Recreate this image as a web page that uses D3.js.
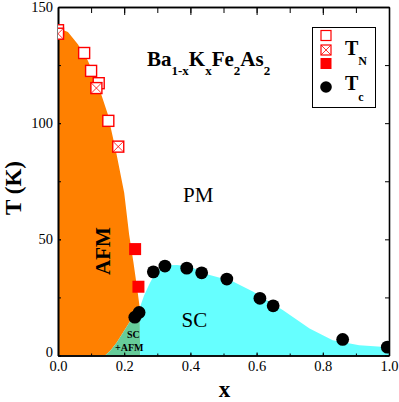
<!DOCTYPE html>
<html><head><meta charset="utf-8">
<script src="https://cdn.jsdelivr.net/npm/d3@7"></script>
<style>body{margin:0;background:#fff}svg{display:block}text{font-family:"Liberation Serif","Times New Roman",serif}</style>
</head><body>
<svg id="c" width="399" height="402"></svg>
<script>
// ---- data ----
const tnOpen = [[0,140],[0.079,130.2],[0.10,122.5],[0.123,117.2],[0.152,101]];
const tnCrossed = [[0,138.5],[0.116,115.1],[0.182,89.9]];
const tnFilled = [[0.233,45.8],[0.243,29.6]];
const tcData = [[0.232,16.5],[0.245,18.5],[0.288,36],[0.323,38.5],[0.389,37.6],[0.434,35.6],[0.51,32.9],[0.61,24.6],[0.65,21.4],[0.86,6.9],[0.995,3.6]];
const afmEdge = [[0,141],[0.03,139.2],[0.06,134],[0.09,127],[0.12,117],[0.15,104],[0.175,88],[0.2,70],[0.215,52],[0.228,40],[0.24,28],[0.247,20.5]];
const mixEdge = [[0.247,20.5],[0.233,18.2],[0.207,12.3],[0.177,5.5],[0.158,2],[0.142,0]];
const scEdge = [[0.248,0],[0.247,20.5],[0.26,25.8],[0.275,30.4],[0.29,34.5],[0.31,37.6],[0.33,38.8],[0.36,39],[0.4,38.2],[0.45,35],[0.5,33],[0.53,31.7],[0.59,27.4],[0.68,19.5],[0.76,11.6],[0.83,6.6],[0.91,4.4],[1.0,3.6],[1.0,0]];
const xMajor = [0,0.2,0.4,0.6,0.8,1.0];
const xMinor = [0,0.1,0.2,0.3,0.4,0.5,0.6,0.7,0.8,0.9,1.0];
const yMajor = [0,50,100,150];
const yMinor = [0,25,50,75,100,125,150];

const svg = d3.select("#c");
const x = d3.scaleLinear().domain([0,1]).range([58,389]);
const y = d3.scaleLinear().domain([0,150]).range([355.5,7]);

svg.append("defs").append("clipPath").attr("id","clip")
  .append("rect").attr("x",58).attr("y",7).attr("width",331).attr("height",348.5);

const line = d3.line().x(d=>x(d[0])).y(d=>y(d[1]));
const g = svg.append("g").attr("clip-path","url(#clip)");

// regions
const afmPoly = [[0,0]].concat(afmEdge, mixEdge.slice(1));
g.append("path").attr("d", line(afmPoly)+"Z").attr("fill","#ff8000");
const mixPoly = mixEdge.concat([[0.248,0]]);
g.append("path").attr("d", line(mixPoly)+"Z").attr("fill","#66cc99");
g.append("path").attr("d", line(scEdge)+"Z").attr("fill","#66ffff");

// axes
function styleAxis(sel){
  sel.selectAll(".domain").attr("stroke","#000").attr("stroke-width",1.6);
  sel.selectAll(".tick line").attr("stroke","#000").attr("stroke-width",1);
  sel.selectAll("text").attr("font-family","Liberation Serif").attr("font-size",14.5).attr("fill","#000");
}
const ax1 = svg.append("g").attr("transform","translate(0,355.5)")
  .call(d3.axisBottom(x).tickValues(xMinor).tickSizeInner(-2).tickSizeOuter(0).tickFormat(""));
styleAxis(ax1);
const ax2 = svg.append("g").attr("transform","translate(0,355.5)")
  .call(d3.axisBottom(x).tickValues(xMajor).tickSizeInner(-3).tickSizeOuter(0).tickPadding(5).tickFormat(d3.format(".1f")));
styleAxis(ax2);
const ax3 = svg.append("g").attr("transform","translate(58,0)")
  .call(d3.axisLeft(y).tickValues(yMinor).tickSizeInner(-3).tickSizeOuter(0).tickFormat(""));
styleAxis(ax3);
const ax4 = svg.append("g").attr("transform","translate(58,0)")
  .call(d3.axisLeft(y).tickValues(yMajor).tickSizeInner(-3).tickSizeOuter(0).tickPadding(5));
styleAxis(ax4);
ax4.selectAll(".tick text").filter(d=>d===0).attr("dy","0.1em");
const ax5 = svg.append("g").attr("transform","translate(0,7)")
  .call(d3.axisTop(x).tickValues(xMinor).tickSizeInner(-6).tickSizeOuter(0).tickFormat(""));
styleAxis(ax5);
const ax6 = svg.append("g").attr("transform","translate(0,7)")
  .call(d3.axisTop(x).tickValues(xMajor).tickSizeInner(-8).tickSizeOuter(0).tickFormat(""));
styleAxis(ax6);
const ax7 = svg.append("g").attr("transform","translate(389,0)")
  .call(d3.axisRight(y).tickValues(yMinor).tickSizeInner(-4).tickSizeOuter(0).tickFormat(""));
styleAxis(ax7);

// symbols
const S = 11;
const sg = svg.append("g").attr("clip-path","url(#clip)");
function sq(sel, data, fill){
  sel.selectAll(null).data(data).enter().append("rect")
    .attr("x",d=>x(d[0])-S/2).attr("y",d=>y(d[1])-S/2).attr("width",S).attr("height",S)
    .attr("fill",fill).attr("stroke","#ff0000").attr("stroke-width",1.4);
}
sq(sg, tnOpen, "#fff");
sq(sg, tnCrossed, "#fff");
sg.selectAll(null).data(tnCrossed).enter().append("path")
  .attr("d",d=>{const cx=x(d[0]),cy=y(d[1]),h=S/2;return `M${cx-h},${cy-h}L${cx+h},${cy+h}M${cx+h},${cy-h}L${cx-h},${cy+h}`;})
  .attr("stroke","#ff0000").attr("stroke-width",0.8);
sg.selectAll(null).data(tnFilled).enter().append("rect")
  .attr("x",d=>x(d[0])-6).attr("y",d=>y(d[1])-6).attr("width",12).attr("height",12).attr("fill","#ff0000");
sg.selectAll(null).data(tcData).enter().append("circle")
  .attr("cx",d=>x(d[0])).attr("cy",d=>y(d[1])).attr("r",6.4).attr("fill","#000");

// labels
const title = svg.append("text").attr("x",147).attr("y",66).attr("font-weight","bold");
title.append("tspan").attr("font-size",21).text("Ba");
title.append("tspan").attr("font-size",13).attr("dy",9).text("1-x");
title.append("tspan").attr("font-size",21).attr("dy",-9).text("K");
title.append("tspan").attr("font-size",13).attr("dy",9).text("x");
title.append("tspan").attr("font-size",21).attr("dy",-9).text("Fe");
title.append("tspan").attr("font-size",13).attr("dy",9).text("2");
title.append("tspan").attr("font-size",21).attr("dy",-9).text("As");
title.append("tspan").attr("font-size",13).attr("dy",9).text("2");

svg.append("text").attr("x",183).attr("y",201.5).attr("font-size",21).text("PM");
svg.append("text").attr("x",181.5).attr("y",326.5).attr("font-size",21).text("SC");
svg.append("text").attr("transform","translate(110,251) rotate(-90)").attr("text-anchor","middle")
  .attr("font-size",21).attr("font-weight","bold").text("AFM");
svg.append("text").attr("x",127).attr("y",337.5).attr("font-size",10).attr("font-weight","bold").text("SC");
svg.append("text").attr("x",115).attr("y",351).attr("font-size",10).attr("font-weight","bold").text("+AFM");
svg.append("text").attr("transform","translate(21,188) rotate(-90)").attr("text-anchor","middle")
  .attr("font-size",23).attr("font-weight","bold").text("T (K)");
svg.append("text").attr("x",224.5).attr("y",397).attr("text-anchor","middle")
  .attr("font-size",23).attr("font-weight","bold").text("x");

// legend
const lg = svg.append("g");
lg.append("rect").attr("x",312.5).attr("y",27.5).attr("width",63).attr("height",80)
  .attr("fill","#fff").attr("stroke","#000").attr("stroke-width",1);
lg.append("rect").attr("x",321).attr("y",30.5).attr("width",10).attr("height",10).attr("fill","#fff").attr("stroke","#ff0000").attr("stroke-width",1.2);
lg.append("rect").attr("x",321).attr("y",45).attr("width",10).attr("height",10).attr("fill","#fff").attr("stroke","#ff0000").attr("stroke-width",1.2);
lg.append("path").attr("d","M321,45L331,55M331,45L321,55").attr("stroke","#ff0000").attr("stroke-width",0.8);
lg.append("rect").attr("x",320.5).attr("y",58).attr("width",11).attr("height",11).attr("fill","#ff0000");
lg.append("circle").attr("cx",326).attr("cy",87).attr("r",5.8).attr("fill","#000");
const tn = lg.append("text").attr("x",345).attr("y",55).attr("font-weight","bold");
tn.append("tspan").attr("font-size",20).text("T");
tn.append("tspan").attr("font-size",12).attr("dy",10).text("N");
const tc = lg.append("text").attr("x",345).attr("y",90).attr("font-weight","bold");
tc.append("tspan").attr("font-size",20).text("T");
tc.append("tspan").attr("font-size",12).attr("dy",11).text("c");
</script>
</body></html>
